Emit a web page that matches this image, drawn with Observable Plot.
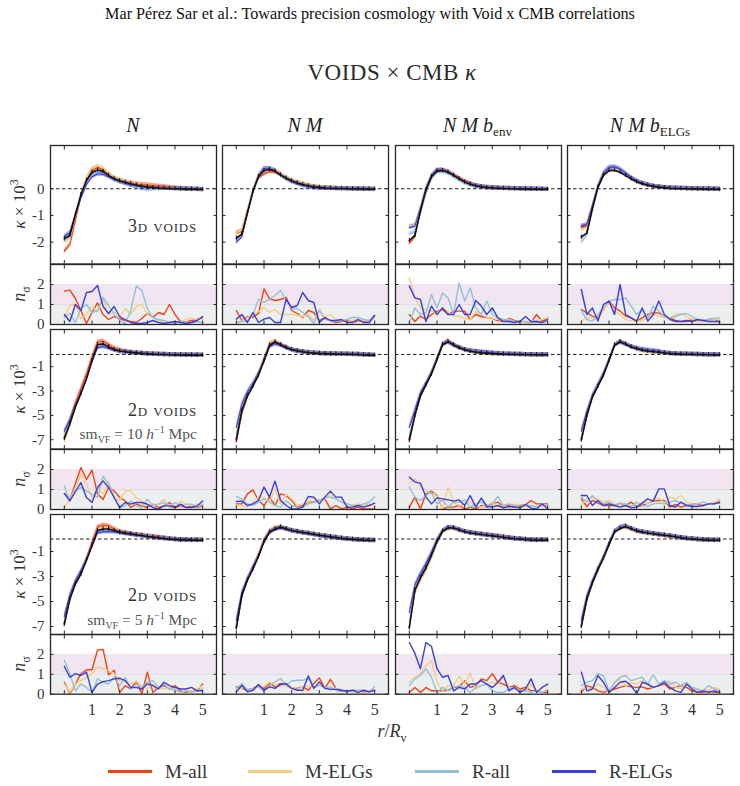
<!DOCTYPE html>
<html><head><meta charset="utf-8">
<script src="https://cdn.jsdelivr.net/npm/d3@7"></script>
<script src="https://cdn.jsdelivr.net/npm/@observablehq/plot@0.6"></script>
<style>
body{margin:0;background:#fff;}
#wrap{position:relative;width:740px;height:786px;overflow:hidden;font-family:"Liberation Serif","DejaVu Serif",serif;color:#222;background:#fff;}
.t{position:absolute;white-space:nowrap;line-height:1;}
.c{transform:translate(-50%,-50%);}
.r{transform:translate(-100%,-50%);}
.rot{transform:translate(-50%,-50%) rotate(-90deg);}
sub,sup{line-height:0;}
svg text{font-family:"Liberation Serif","DejaVu Serif",serif;}
</style></head><body><div id="wrap"></div>
<script>
// ---------- data ----------
var rBins = [0,0.2,0.4,0.6,0.8,1,1.2,1.4,1.6,1.8,2,2.2,2.4,2.6,2.8,3,3.2,3.4,3.6,3.8,4,4.2,4.4,4.6,4.8,5];
var rowKeys = ["3d","2d10","2d5"];
var colKeys = ["N","NM","NMbenv","NMbELG"];
var seriesKeys = ["Mall","MELG","Rall","RELG"];
var seriesNames = ["M-all","M-ELGs","R-all","R-ELGs"];
var bigTickValues = {"3d":[0,-1,-2],"2d10":[-1,-3,-5,-7],"2d5":[-1,-3,-5,-7]};
var smallTickValues = [0,1,2];
var xTickValues = [0,1,2,3,4,5];
var xTickLabels = [1,2,3,4,5];
var errHalf = {"3d":0.08,"2d10":0.18,"2d5":0.18};

// kappa x 1e3 : 3D voids
var kap3d_N_black = [-1.87,-1.75,-0.96,-0.22,0.31,0.62,0.70,0.65,0.50,0.38,0.30,0.24,0.19,0.14,0.10,0.07,0.05,0.03,0.02,0.01,0.00,-0.01,-0.02,-0.02,-0.02,-0.03];
var kap3d_N_Mall = [-2.35,-2.10,-1.20,-0.30,0.35,0.70,0.80,0.72,0.55,0.40,0.32,0.26,0.22,0.18,0.15,0.14,0.12,0.10,0.08,0.05,0.03,0.01,-0.01,-0.02,-0.03,-0.04];
var kap3d_N_MELG = [-2.00,-1.85,-1.00,-0.20,0.40,0.75,0.85,0.78,0.58,0.42,0.33,0.26,0.20,0.15,0.11,0.08,0.06,0.04,0.03,0.02,0.01,0.00,-0.01,-0.01,-0.02,-0.02];
var kap3d_N_Rall = [-1.95,-1.80,-1.00,-0.25,0.30,0.60,0.68,0.62,0.48,0.36,0.27,0.20,0.13,0.06,0.00,-0.04,-0.02,0.00,0.01,0.01,0.00,-0.01,-0.01,-0.02,-0.02,-0.03];
var kap3d_N_RELG = [-1.80,-1.65,-1.00,-0.35,0.15,0.45,0.55,0.55,0.45,0.35,0.27,0.20,0.14,0.10,0.07,0.05,0.04,0.03,0.02,0.01,0.00,0.00,-0.01,-0.01,-0.02,-0.02];

var kap3d_NM_black = [-1.85,-1.70,-0.90,-0.10,0.45,0.68,0.72,0.66,0.52,0.40,0.30,0.22,0.16,0.11,0.07,0.05,0.03,0.02,0.01,0.01,0.00,0.00,0.00,-0.01,-0.01,-0.01];
var kap3d_NM_Mall = [-1.65,-1.60,-0.85,-0.10,0.40,0.55,0.65,0.62,0.52,0.40,0.30,0.23,0.17,0.12,0.08,0.05,0.03,0.02,0.01,0.00,0.00,-0.01,-0.02,-0.02,-0.02,-0.03];
var kap3d_NM_MELG = [-1.65,-1.55,-0.80,-0.05,0.48,0.70,0.75,0.70,0.56,0.43,0.33,0.25,0.18,0.12,0.08,0.05,0.03,0.02,0.01,0.01,0.00,0.00,0.00,-0.01,-0.01,-0.01];
var kap3d_NM_Rall = [-1.90,-1.75,-0.95,-0.15,0.42,0.66,0.72,0.66,0.52,0.38,0.28,0.20,0.13,0.08,0.04,0.02,0.01,0.01,0.01,0.00,0.00,0.00,-0.01,-0.01,-0.01,-0.02];
var kap3d_NM_RELG = [-2.00,-1.80,-0.95,-0.12,0.48,0.75,0.76,0.68,0.52,0.38,0.27,0.19,0.13,0.08,0.04,0.02,0.01,0.01,0.00,0.00,0.00,-0.01,-0.01,-0.01,-0.02,-0.02];

var kap3d_NMbenv_black = [-1.94,-1.75,-0.85,-0.05,0.45,0.66,0.68,0.62,0.50,0.37,0.25,0.17,0.10,0.07,0.04,0.03,0.02,0.01,0.00,0.00,-0.01,-0.01,-0.02,-0.02,-0.02,-0.02];
var kap3d_NMbenv_Mall = [-2.05,-1.80,-0.85,-0.05,0.45,0.68,0.70,0.64,0.52,0.40,0.28,0.19,0.12,0.08,0.05,0.04,0.03,0.02,0.01,0.00,0.00,-0.01,-0.01,-0.02,-0.02,-0.02];
var kap3d_NMbenv_MELG = [-1.40,-1.35,-0.70,0.00,0.45,0.65,0.66,0.60,0.48,0.35,0.24,0.15,0.09,0.05,0.03,0.02,0.01,0.01,0.00,0.00,-0.01,-0.01,-0.01,-0.02,-0.02,-0.02];
var kap3d_NMbenv_Rall = [-1.70,-1.60,-0.95,-0.20,0.35,0.60,0.64,0.58,0.45,0.32,0.21,0.13,0.08,0.05,0.03,0.02,0.01,0.00,0.00,0.00,-0.01,-0.01,-0.02,-0.02,-0.02,-0.02];
var kap3d_NMbenv_RELG = [-1.45,-1.40,-0.75,0.00,0.48,0.70,0.70,0.62,0.50,0.37,0.26,0.18,0.12,0.08,0.05,0.03,0.02,0.01,0.01,0.00,0.00,-0.01,-0.01,-0.01,-0.02,-0.02];

var kap3d_NMbELG_black = [-1.81,-1.65,-0.75,0.05,0.50,0.68,0.69,0.62,0.50,0.37,0.26,0.19,0.13,0.09,0.06,0.04,0.02,0.01,0.00,0.00,-0.01,-0.01,-0.02,-0.02,-0.02,-0.03];
var kap3d_NMbELG_Mall = [-1.45,-1.40,-0.70,0.05,0.52,0.72,0.72,0.64,0.51,0.38,0.27,0.19,0.13,0.09,0.06,0.04,0.02,0.01,0.01,0.00,0.00,-0.01,-0.01,-0.01,-0.02,-0.02];
var kap3d_NMbELG_MELG = [-1.55,-1.45,-0.72,0.03,0.50,0.70,0.72,0.65,0.52,0.38,0.27,0.19,0.13,0.09,0.06,0.04,0.02,0.01,0.00,0.00,-0.01,-0.01,-0.01,-0.02,-0.02,-0.02];
var kap3d_NMbELG_Rall = [-2.00,-1.75,-0.80,0.02,0.50,0.72,0.75,0.68,0.54,0.40,0.28,0.20,0.14,0.09,0.06,0.04,0.03,0.02,0.01,0.00,0.00,0.00,-0.01,-0.01,-0.01,-0.02];
var kap3d_NMbELG_RELG = [-1.40,-1.35,-0.65,0.08,0.58,0.80,0.82,0.74,0.58,0.43,0.30,0.21,0.15,0.10,0.07,0.05,0.03,0.02,0.02,0.01,0.00,0.00,0.00,-0.01,-0.01,-0.01];

// kappa x 1e3 : 2D voids, sm 10
var kap2d10_N_black = [-6.9,-5.7,-4.3,-3.2,-2.0,-0.5,0.80,0.87,0.62,0.40,0.28,0.22,0.17,0.13,0.09,0.06,0.03,0.01,0.00,-0.02,-0.03,-0.04,-0.05,-0.05,-0.06,-0.06];
var kap2d10_N_Mall = [-6.8,-5.4,-4.0,-2.8,-1.6,-0.2,1.00,1.08,0.80,0.52,0.35,0.25,0.18,0.13,0.09,0.06,0.04,0.02,0.00,-0.01,-0.02,-0.03,-0.04,-0.05,-0.05,-0.05];
var kap2d10_N_MELG = [-7.2,-5.8,-4.4,-3.2,-2.0,-0.5,0.75,0.85,0.62,0.40,0.27,0.20,0.15,0.11,0.08,0.05,0.03,0.01,0.00,-0.01,-0.02,-0.03,-0.04,-0.04,-0.05,-0.05];
var kap2d10_N_Rall = [-6.6,-5.5,-4.2,-3.1,-1.9,-0.5,0.70,0.78,0.58,0.38,0.26,0.19,0.14,0.10,0.07,0.04,0.02,0.00,-0.01,-0.02,-0.03,-0.04,-0.05,-0.05,-0.05,-0.06];
var kap2d10_N_RELG = [-6.3,-5.4,-4.2,-3.1,-2.0,-0.6,0.55,0.65,0.52,0.36,0.26,0.20,0.15,0.11,0.08,0.05,0.03,0.01,0.00,-0.01,-0.02,-0.03,-0.04,-0.04,-0.05,-0.05];

var kap2d10_NM_black = [-7.0,-4.6,-3.4,-2.6,-1.7,-0.5,0.75,1.02,0.80,0.58,0.41,0.30,0.22,0.16,0.12,0.09,0.07,0.05,0.04,0.03,0.02,0.01,0.00,-0.03,-0.05,-0.07];
var kap2d10_NM_Mall = [-7.2,-4.9,-3.5,-2.6,-1.6,-0.4,0.85,1.05,0.82,0.58,0.40,0.29,0.21,0.15,0.11,0.08,0.06,0.05,0.04,0.03,0.02,0.01,0.00,-0.02,-0.04,-0.06];
var kap2d10_NM_MELG = [-6.9,-4.6,-3.4,-2.6,-1.7,-0.5,0.72,1.00,0.80,0.57,0.40,0.29,0.22,0.16,0.12,0.09,0.07,0.05,0.04,0.03,0.02,0.01,0.00,-0.02,-0.04,-0.06];
var kap2d10_NM_Rall = [-6.6,-4.4,-3.3,-2.5,-1.6,-0.5,0.70,0.95,0.78,0.56,0.38,0.27,0.20,0.14,0.10,0.07,0.05,0.04,0.03,0.02,0.01,0.00,-0.01,-0.03,-0.05,-0.07];
var kap2d10_NM_RELG = [-6.0,-4.1,-3.1,-2.4,-1.6,-0.6,0.62,0.88,0.75,0.55,0.38,0.27,0.20,0.15,0.11,0.08,0.06,0.05,0.04,0.03,0.02,0.01,0.00,-0.02,-0.04,-0.06];

var kap2d10_NMbenv_black = [-7.0,-5.0,-3.4,-2.5,-1.6,-0.4,0.80,1.05,0.78,0.55,0.38,0.26,0.18,0.13,0.10,0.07,0.05,0.03,0.02,0.01,0.00,-0.01,-0.02,-0.03,-0.03,-0.03];
var kap2d10_NMbenv_Mall = [-7.2,-5.1,-3.5,-2.5,-1.6,-0.4,0.82,1.08,0.80,0.57,0.40,0.28,0.20,0.14,0.10,0.07,0.05,0.03,0.02,0.01,0.00,-0.01,-0.02,-0.03,-0.03,-0.03];
var kap2d10_NMbenv_MELG = [-7.0,-5.0,-3.4,-2.5,-1.6,-0.4,0.78,1.02,0.76,0.54,0.37,0.25,0.18,0.13,0.09,0.06,0.04,0.03,0.02,0.01,0.00,-0.01,-0.02,-0.03,-0.04,-0.04];
var kap2d10_NMbenv_Rall = [-6.7,-4.8,-3.3,-2.5,-1.6,-0.45,0.75,1.00,0.76,0.54,0.37,0.26,0.19,0.14,0.10,0.07,0.05,0.03,0.02,0.01,0.00,-0.01,-0.02,-0.03,-0.03,-0.03];
var kap2d10_NMbenv_RELG = [-6.0,-4.6,-3.2,-2.4,-1.5,-0.4,0.80,1.02,0.78,0.56,0.40,0.30,0.24,0.20,0.17,0.12,0.08,0.05,0.03,0.01,0.00,-0.01,-0.02,-0.02,-0.02,-0.02];

var kap2d10_NMbELG_black = [-7.0,-5.0,-3.5,-2.6,-1.7,-0.5,0.75,1.05,0.85,0.62,0.47,0.35,0.27,0.22,0.18,0.12,0.08,0.05,0.03,0.02,0.01,0.00,-0.01,-0.02,-0.03,-0.03];
var kap2d10_NMbELG_Mall = [-7.1,-5.1,-3.5,-2.6,-1.7,-0.5,0.77,1.07,0.86,0.62,0.46,0.34,0.26,0.21,0.16,0.11,0.07,0.05,0.03,0.02,0.01,0.00,-0.01,-0.02,-0.03,-0.03];
var kap2d10_NMbELG_MELG = [-7.0,-5.0,-3.5,-2.6,-1.7,-0.5,0.74,1.03,0.84,0.60,0.45,0.33,0.25,0.20,0.16,0.11,0.07,0.05,0.03,0.02,0.01,0.00,-0.01,-0.02,-0.03,-0.03];
var kap2d10_NMbELG_Rall = [-6.8,-4.9,-3.4,-2.5,-1.6,-0.5,0.76,1.05,0.86,0.63,0.48,0.36,0.28,0.22,0.17,0.12,0.08,0.05,0.03,0.02,0.01,0.00,-0.01,-0.02,-0.02,-0.02];
var kap2d10_NMbELG_RELG = [-6.3,-4.7,-3.4,-2.5,-1.6,-0.5,0.72,1.00,0.84,0.64,0.52,0.42,0.36,0.32,0.24,0.15,0.09,0.05,0.03,0.02,0.01,0.00,-0.01,-0.02,-0.02,-0.02];

// kappa x 1e3 : 2D voids, sm 5
var kap2d5_N_black = [-6.8,-4.8,-3.6,-2.8,-1.7,-0.5,0.68,0.80,0.80,0.68,0.55,0.47,0.41,0.33,0.28,0.20,0.15,0.10,0.04,-0.01,-0.04,-0.07,-0.08,-0.09,-0.10,-0.10];
var kap2d5_N_Mall = [-6.9,-4.7,-3.5,-2.7,-1.6,-0.3,0.95,1.10,1.05,0.80,0.60,0.50,0.43,0.36,0.30,0.24,0.20,0.15,0.08,0.02,-0.03,-0.06,-0.08,-0.09,-0.10,-0.10];
var kap2d5_N_MELG = [-7.0,-4.9,-3.6,-2.8,-1.7,-0.5,0.70,0.85,0.82,0.70,0.56,0.47,0.40,0.33,0.27,0.20,0.14,0.09,0.04,0.00,-0.04,-0.06,-0.08,-0.09,-0.10,-0.10];
var kap2d5_N_Rall = [-6.6,-4.7,-3.5,-2.7,-1.7,-0.5,0.62,0.74,0.74,0.64,0.52,0.45,0.39,0.32,0.26,0.19,0.14,0.09,0.04,0.00,-0.04,-0.07,-0.08,-0.09,-0.10,-0.11];
var kap2d5_N_RELG = [-6.2,-4.5,-3.4,-2.6,-1.7,-0.6,0.50,0.58,0.60,0.58,0.50,0.44,0.38,0.31,0.26,0.19,0.14,0.09,0.04,0.00,-0.04,-0.07,-0.08,-0.10,-0.10,-0.10];

var kap2d5_NM_black = [-7.1,-4.5,-3.3,-2.4,-1.4,-0.2,0.55,0.80,0.95,0.82,0.68,0.60,0.52,0.45,0.38,0.30,0.24,0.18,0.12,0.06,0.01,-0.03,-0.06,-0.09,-0.11,-0.12];
var kap2d5_NM_Mall = [-7.2,-4.6,-3.3,-2.3,-1.3,-0.1,0.60,0.85,0.95,0.80,0.66,0.58,0.50,0.44,0.37,0.29,0.23,0.17,0.11,0.05,0.00,-0.04,-0.07,-0.10,-0.12,-0.12];
var kap2d5_NM_MELG = [-7.1,-4.5,-3.3,-2.4,-1.4,-0.2,0.55,0.82,0.96,0.83,0.69,0.60,0.52,0.45,0.38,0.30,0.24,0.18,0.12,0.06,0.01,-0.03,-0.06,-0.09,-0.11,-0.12];
var kap2d5_NM_Rall = [-6.8,-4.4,-3.2,-2.4,-1.4,-0.2,0.52,0.78,0.90,0.80,0.67,0.59,0.51,0.44,0.37,0.30,0.24,0.18,0.12,0.06,0.01,-0.03,-0.06,-0.09,-0.10,-0.11];
var kap2d5_NM_RELG = [-6.5,-4.3,-3.2,-2.3,-1.4,-0.25,0.50,0.76,0.88,0.80,0.67,0.59,0.51,0.44,0.37,0.29,0.23,0.17,0.11,0.05,0.00,-0.04,-0.07,-0.09,-0.10,-0.11];

var kap2d5_NMbenv_black = [-7.1,-4.1,-3.1,-2.3,-1.3,-0.2,0.60,0.88,0.88,0.72,0.58,0.48,0.42,0.36,0.30,0.25,0.20,0.14,0.08,0.03,0.00,-0.04,-0.08,-0.10,-0.10,-0.10];
var kap2d5_NMbenv_Mall = [-7.0,-4.3,-3.3,-2.5,-1.5,-0.3,0.58,0.86,0.86,0.70,0.58,0.50,0.44,0.38,0.32,0.28,0.22,0.16,0.10,0.04,0.00,-0.04,-0.08,-0.10,-0.10,-0.10];
var kap2d5_NMbenv_MELG = [-7.0,-4.3,-3.3,-2.5,-1.5,-0.3,0.56,0.82,0.84,0.68,0.55,0.47,0.40,0.35,0.29,0.24,0.19,0.13,0.07,0.02,-0.01,-0.05,-0.08,-0.10,-0.10,-0.10];
var kap2d5_NMbenv_Rall = [-6.6,-4.0,-3.0,-2.2,-1.2,-0.15,0.62,0.88,0.88,0.72,0.58,0.48,0.42,0.36,0.30,0.25,0.20,0.14,0.08,0.03,0.00,-0.04,-0.08,-0.10,-0.10,-0.10];
var kap2d5_NMbenv_RELG = [-5.9,-3.7,-2.8,-2.0,-1.1,-0.1,0.65,0.92,0.90,0.74,0.60,0.50,0.44,0.38,0.32,0.26,0.20,0.14,0.08,0.03,-0.01,-0.05,-0.08,-0.09,-0.08,-0.08];

var kap2d5_NMbELG_black = [-7.0,-4.8,-3.5,-2.45,-1.5,-0.45,0.55,0.85,1.00,0.82,0.65,0.55,0.48,0.42,0.35,0.30,0.24,0.18,0.10,0.04,0.00,-0.04,-0.07,-0.09,-0.10,-0.10];
var kap2d5_NMbELG_Mall = [-7.0,-4.9,-3.6,-2.5,-1.6,-0.5,0.55,0.84,0.98,0.80,0.63,0.54,0.47,0.41,0.34,0.29,0.23,0.17,0.10,0.04,0.00,-0.04,-0.07,-0.09,-0.10,-0.10];
var kap2d5_NMbELG_MELG = [-7.0,-4.8,-3.5,-2.5,-1.6,-0.5,0.54,0.84,0.98,0.80,0.63,0.54,0.47,0.41,0.34,0.29,0.23,0.17,0.09,0.03,-0.01,-0.05,-0.08,-0.10,-0.11,-0.11];
var kap2d5_NMbELG_Rall = [-6.8,-4.7,-3.4,-2.4,-1.5,-0.4,0.60,0.92,1.05,0.85,0.68,0.57,0.50,0.43,0.36,0.31,0.25,0.19,0.11,0.05,0.01,-0.03,-0.06,-0.08,-0.09,-0.09];
var kap2d5_NMbELG_RELG = [-6.5,-4.6,-3.4,-2.4,-1.5,-0.4,0.58,0.88,1.02,0.84,0.67,0.56,0.49,0.43,0.36,0.31,0.25,0.19,0.11,0.05,0.01,-0.03,-0.06,-0.08,-0.09,-0.09];

// n_sigma
var ns3d_N_Mall = [1.67,1.72,1.30,0.70,0.05,0.60,1.08,0.50,0.25,0.40,0.30,0.20,0.15,0.10,0.30,0.55,0.35,0.60,0.50,1.00,0.50,0.15,0.10,0.20,0.25,0.33];
var ns3d_N_MELG = [0.35,0.95,1.00,0.30,0.50,0.90,0.65,1.30,0.50,0.65,0.35,0.80,0.50,0.90,1.00,0.50,0.35,0.20,0.10,0.10,0.10,0.15,0.25,0.30,0.25,0.25];
var ns3d_N_Rall = [0.35,0.55,0.10,0.80,1.00,0.60,0.70,1.35,0.95,0.50,0.20,0.05,0.70,1.92,1.70,0.80,0.35,0.25,0.20,0.10,0.05,0.15,0.10,0.10,0.15,0.10];
var ns3d_N_RELG = [0.50,0.15,1.00,0.70,1.60,1.65,1.95,0.90,0.55,0.90,0.40,0.25,0.10,0.05,0.05,0.10,0.20,0.10,0.05,0.10,0.15,0.10,0.05,0.10,0.20,0.40];

var ns3d_NM_Mall = [0.70,0.20,0.40,0.35,0.55,1.78,1.28,1.20,1.25,1.36,0.70,0.55,0.35,0.70,0.60,0.20,0.35,0.20,0.10,0.15,0.20,0.10,0.20,0.15,0.10,0.45];
var ns3d_NM_MELG = [0.10,0.20,0.35,0.50,0.65,0.85,0.60,0.75,0.50,0.50,0.50,0.45,0.40,0.50,0.20,0.78,0.35,0.50,0.25,0.20,0.15,0.20,0.25,0.20,0.15,0.35];
var ns3d_NM_Rall = [0.10,0.15,0.20,0.45,1.27,1.10,1.27,1.45,1.70,1.20,0.80,0.80,0.60,0.40,0.05,0.70,0.25,0.20,0.15,0.20,0.25,0.35,0.35,0.25,0.20,0.45];
var ns3d_NM_RELG = [0.27,0.50,0.10,0.60,0.10,0.27,0.35,0.10,0.10,1.27,0.85,0.95,1.60,1.20,1.10,0.10,0.35,0.20,0.20,0.25,0.10,0.10,0.25,0.10,0.10,0.45];

var ns3d_NMbenv_Mall = [0.50,0.15,0.42,0.25,0.50,0.67,0.75,0.50,0.67,0.67,0.67,0.25,0.50,0.40,0.35,0.30,0.20,0.15,0.30,0.20,0.15,0.10,0.10,0.50,0.15,0.33];
var ns3d_NMbenv_MELG = [2.33,1.33,0.83,0.75,0.65,0.58,0.83,0.65,0.45,0.40,0.30,0.25,0.65,0.50,0.35,0.30,0.25,0.20,0.25,0.15,0.15,0.10,0.20,0.20,0.25,0.33];
var ns3d_NMbenv_Rall = [0.08,0.83,0.50,0.58,1.50,0.83,1.58,1.33,0.50,2.08,1.17,1.83,0.83,0.50,1.17,0.50,0.33,0.25,0.20,0.15,0.15,0.15,0.10,0.10,0.10,0.15];
var ns3d_NMbenv_RELG = [1.92,1.33,1.25,0.15,0.92,0.50,0.83,0.50,0.50,1.00,0.50,0.50,1.20,0.92,0.50,0.83,0.33,0.15,0.15,0.10,0.15,0.40,0.15,0.15,0.10,0.25];

var ns3d_NMbELG_Mall = [0.75,0.58,0.42,0.33,0.75,1.17,0.83,0.67,0.42,0.33,0.17,0.33,0.50,0.58,0.58,0.42,0.33,0.20,0.15,0.15,0.25,0.15,0.20,0.25,0.30,0.10];
var ns3d_NMbELG_MELG = [0.17,0.33,0.33,0.25,0.75,1.08,0.67,0.50,0.25,0.20,0.17,0.20,0.33,0.50,0.42,0.33,0.33,0.50,0.55,0.40,0.25,0.15,0.15,0.20,0.25,0.25];
var ns3d_NMbELG_Rall = [0.67,0.25,0.17,0.50,0.83,1.17,1.25,1.25,1.33,0.92,0.50,0.75,0.33,0.92,0.67,0.40,0.33,0.40,0.50,0.55,0.40,0.25,0.20,0.25,0.30,0.33];
var ns3d_NMbELG_RELG = [1.75,0.50,0.83,0.17,1.00,1.17,0.50,2.00,0.50,0.33,0.17,0.83,0.17,0.50,1.17,0.50,0.25,0.15,0.15,0.20,0.15,0.25,0.20,0.15,0.15,0.15];

var ns2d10_N_Mall = [0.80,0.50,1.30,2.10,1.50,1.97,0.77,0.50,1.10,0.93,0.60,0.43,0.10,0.27,0.18,0.10,0.27,0.10,0.18,0.35,0.10,0.18,0.10,0.18,0.10,0.18];
var ns2d10_N_MELG = [0.10,0.50,1.10,1.77,1.27,0.60,1.10,0.77,1.43,0.60,0.43,0.93,0.93,0.60,0.43,0.18,0.27,0.27,0.52,0.10,0.10,0.43,0.27,0.18,0.27,0.18];
var ns2d10_N_Rall = [1.18,0.43,0.93,1.10,0.93,0.77,0.60,1.67,1.27,0.60,0.10,0.18,0.43,0.18,0.10,0.52,0.18,0.27,0.35,0.18,0.35,0.18,0.27,0.27,0.10,0.27];
var ns2d10_N_RELG = [0.80,0.43,0.90,1.35,0.60,0.35,1.10,1.43,1.10,0.60,0.10,0.35,0.27,0.35,0.35,0.27,0.10,0.02,0.18,0.18,0.10,0.27,0.10,0.10,0.18,0.43];

var ns2d10_NM_Mall = [0.28,0.28,0.78,0.98,0.45,0.20,0.62,0.20,0.78,0.70,0.45,0.12,0.20,0.37,0.37,0.45,0.53,0.03,0.20,0.03,0.12,0.03,0.12,0.03,0.03,0.03];
var ns2d10_NM_MELG = [0.20,0.20,0.12,0.37,0.62,0.62,0.37,1.03,0.28,0.78,0.53,0.20,0.28,0.37,0.62,0.45,0.53,0.78,0.53,0.37,0.28,0.20,0.28,0.20,0.28,0.12];
var ns2d10_NM_Rall = [0.65,0.53,0.28,0.20,0.37,0.53,0.37,0.20,0.12,0.45,0.20,0.12,0.12,0.28,0.37,0.45,0.62,0.62,0.53,0.37,0.28,0.20,0.20,0.28,0.37,0.62];
var ns2d10_NM_RELG = [0.40,0.42,0.20,0.28,0.45,1.12,0.62,1.42,0.45,0.20,0.03,0.03,0.12,0.65,0.62,0.28,0.62,0.92,0.62,0.62,0.12,0.12,0.20,0.12,0.20,0.32];

var ns2d10_NMbenv_Mall = [0.12,0.62,0.03,0.78,0.92,0.70,0.03,0.12,0.12,0.20,0.03,0.12,0.03,0.20,0.12,0.28,0.37,0.12,0.20,0.12,0.20,0.23,0.45,0.28,0.28,0.28];
var ns2d10_NMbenv_MELG = [1.28,1.53,1.20,0.95,0.78,0.78,0.03,1.12,0.37,0.20,0.28,0.37,0.20,0.12,0.20,0.37,0.12,0.20,0.12,0.28,0.20,0.12,0.20,0.15,0.20,0.12];
var ns2d10_NMbenv_Rall = [1.12,0.62,0.45,0.70,0.87,0.28,0.48,0.12,0.37,0.37,0.48,0.12,0.28,0.37,0.20,0.28,0.65,0.20,0.28,0.20,0.12,0.20,0.20,0.12,0.28,0.20];
var ns2d10_NMbenv_RELG = [1.62,1.37,1.32,0.62,0.28,0.58,0.53,0.48,0.42,0.48,0.20,0.70,0.12,0.57,0.15,0.12,0.20,0.08,0.15,0.12,0.08,0.25,0.07,0.03,0.28,0.03];

var ns2d10_NMbELG_Mall = [0.53,0.15,0.45,0.32,0.20,0.20,0.20,0.32,0.20,0.37,0.15,0.20,0.32,0.42,0.45,0.45,0.12,0.25,0.12,0.20,0.28,0.25,0.20,0.28,0.32,0.32];
var ns2d10_NMbELG_MELG = [0.20,0.53,0.62,0.53,0.37,0.45,0.28,0.12,0.28,0.20,0.15,0.37,0.28,0.53,0.58,0.32,0.62,0.53,0.70,0.37,0.28,0.20,0.20,0.28,0.37,0.53];
var ns2d10_NMbELG_Rall = [0.62,0.37,0.70,0.37,0.28,0.37,0.20,0.32,0.28,0.15,0.37,0.20,0.15,0.28,0.32,0.28,0.37,0.45,0.32,0.25,0.20,0.28,0.37,0.28,0.25,0.45];
var ns2d10_NMbELG_RELG = [0.70,0.70,0.20,0.45,0.20,0.28,0.20,0.12,0.20,0.08,0.12,0.32,0.53,0.42,1.03,1.03,0.20,0.12,0.37,0.20,0.15,0.15,0.20,0.28,0.28,0.37];

var ns2d5_N_Mall = [0.60,0.02,0.51,1.03,1.23,1.23,2.22,2.25,0.97,1.20,0.09,0.43,0.26,0.65,0.02,1.11,0.09,0.34,0.43,0.26,0.43,0.17,0.09,0.17,0.17,0.51];
var ns2d5_N_MELG = [0.51,0.09,0.51,0.68,0.85,1.03,1.37,1.28,1.20,1.03,0.68,0.60,0.51,0.65,0.43,0.26,0.51,0.34,0.26,0.34,0.17,0.09,0.17,0.17,0.26,0.43];
var ns2d5_N_Rall = [1.71,1.03,0.17,0.51,0.34,0.09,0.77,0.60,0.51,0.85,0.43,0.85,0.26,0.51,0.34,0.60,0.68,0.34,0.51,0.26,0.26,0.09,0.17,0.09,0.17,0.26];
var ns2d5_N_RELG = [1.40,0.85,1.03,0.94,1.11,0.09,0.51,0.63,0.68,0.77,0.80,0.68,0.34,0.34,0.26,0.51,0.43,0.26,0.60,0.43,0.34,0.26,0.26,0.34,0.17,0.17];

var ns2d5_NM_Mall = [0.37,0.29,0.20,0.29,0.45,0.29,0.54,0.37,0.54,0.45,0.29,0.29,0.37,0.20,0.54,0.82,0.29,0.75,0.29,0.20,0.12,0.20,0.17,0.12,0.15,0.20];
var ns2d5_NM_MELG = [0.20,0.32,0.29,0.20,0.42,0.37,0.62,0.45,0.37,0.49,0.32,0.24,0.37,0.42,0.32,0.45,0.32,0.20,0.29,0.15,0.20,0.15,0.12,0.20,0.12,0.20];
var ns2d5_NM_Rall = [0.29,0.54,0.20,0.29,0.37,0.15,0.42,0.62,0.79,0.45,0.66,0.70,0.70,0.79,0.37,0.45,0.32,0.37,0.20,0.12,0.20,0.12,0.20,0.20,0.12,0.37];
var ns2d5_NM_RELG = [0.12,0.45,0.12,0.20,0.49,0.20,0.37,0.29,0.49,0.54,0.29,0.20,0.20,0.92,0.29,0.62,0.29,0.25,0.24,0.20,0.15,0.20,0.08,0.20,0.12,0.20];

var ns2d5_NMbenv_Mall = [0.09,0.34,0.09,0.34,0.17,0.17,0.17,0.20,0.34,0.37,0.68,0.34,0.43,0.77,0.68,1.03,0.60,0.51,0.34,0.43,0.26,0.34,0.17,0.17,0.09,0.09];
var ns2d5_NMbenv_MELG = [0.60,0.85,1.03,1.45,1.68,0.60,0.17,0.43,0.43,0.89,0.51,1.06,0.26,0.43,0.51,0.60,0.51,0.85,0.34,0.26,0.17,0.20,0.51,0.17,0.09,0.26];
var ns2d5_NMbenv_Rall = [0.43,0.77,0.94,1.28,0.85,0.09,0.34,0.17,0.34,0.43,0.34,0.09,0.34,0.43,0.51,0.17,0.09,0.09,0.26,0.34,0.17,0.17,0.09,0.17,0.09,0.20];
var ns2d5_NMbenv_RELG = [2.60,2.05,1.28,2.60,2.40,1.28,0.85,0.94,0.17,0.34,0.26,0.51,0.51,0.68,0.51,0.34,0.60,0.94,0.17,0.34,0.09,0.26,0.77,0.09,0.34,0.51];

var ns2d5_NMbELG_Mall = [0.09,0.43,0.34,0.17,0.09,0.17,0.26,0.34,0.43,0.37,0.34,0.37,0.26,0.34,0.43,0.51,0.26,0.34,0.43,0.34,0.17,0.09,0.09,0.17,0.09,0.09];
var ns2d5_NMbELG_MELG = [0.26,0.34,0.26,0.51,0.34,0.09,0.51,0.77,0.43,0.60,0.51,0.68,0.43,0.34,0.47,0.60,0.65,0.34,0.26,0.51,0.34,0.20,0.17,0.20,0.34,0.26];
var ns2d5_NMbELG_Rall = [0.43,0.60,0.68,1.03,0.94,0.17,0.60,0.85,0.94,0.68,0.77,0.85,0.51,0.99,0.51,0.68,0.51,0.60,0.43,0.60,0.34,0.26,0.17,0.43,0.26,0.17];
var ns2d5_NMbELG_RELG = [1.11,0.17,0.26,0.94,0.60,0.09,0.34,0.60,0.65,0.43,0.03,0.60,0.51,0.34,0.43,0.60,0.34,0.17,0.09,0.51,0.26,0.09,0.17,0.09,0.17,0.09];

// ---------- layout / style ----------
var colors = {Mall:"#f4420f", MELG:"#f7cd82", Rall:"#94c0d7", RELG:"#3d3ddb"};
var XD = [-0.5, 5.5];
var bigYD = {"3d":[-2.82,1.62], "2d10":[-7.76,2.05], "2d5":[-7.64,1.96]};
var smallYD = [0, 3];
var colX = [50, 222, 394.5, 567], PW = 166;
var bigTop = [145, 329, 514], bigH = [118.5, 119.5, 120];
var smallTop = [263.5, 448.5, 634], smallH = [60, 60, 59.7];
var FONT = "Liberation Serif";

var wrap = document.getElementById("wrap");
function txt(html, x, y, cls, css) {
  var d = document.createElement("div");
  d.className = "t " + (cls || "c");
  d.style.left = x + "px"; d.style.top = y + "px";
  if (css) d.style.cssText += css;
  d.innerHTML = html;
  wrap.appendChild(d);
  return d;
}
function table(vals) { return rBins.map(function(r, i){ return {r: r, v: vals[i]}; }); }

function makePanel(opts) {
  var ml = opts.yLabels ? 40 : 1, mb = opts.xLabels ? 28 : 1;
  var blank = function(){ return ""; };
  var axes = [
    Plot.axisX(xTickValues, {anchor:"bottom", tickSize:-3.5, tickFormat:blank, label:null}),
    Plot.axisX(xTickValues, {anchor:"top", tickSize:-3.5, tickFormat:blank, label:null}),
    Plot.axisY(opts.yTicks, {anchor:"left", tickSize:-3.5, tickFormat:blank, label:null}),
    Plot.axisY(opts.yTicks, {anchor:"right", tickSize:-3.5, tickFormat:blank, label:null})
  ];
  if (opts.yLabels) axes.push(Plot.axisY(opts.yTicks, {anchor:"left", tickSize:0, tickPadding:6, label:null, fontSize:15, fontFamily:FONT, fill:"#333", tickFormat:function(d){return String(d);}}));
  if (opts.xLabels) axes.push(Plot.axisX(xTickLabels, {anchor:"bottom", tickSize:0, tickPadding:9, label:null, fontSize:16, fontFamily:FONT, fill:"#333", tickFormat:function(d){return String(d);}}));
  var svg = Plot.plot({
    width: PW + ml + 1, height: opts.h + 1 + mb,
    marginLeft: ml, marginRight: 1, marginTop: 1, marginBottom: mb,
    x: {domain: XD}, y: {domain: opts.yDomain},
    style: {fontFamily: FONT, overflow: "visible", background: "transparent", color: "#2a2a2a"},
    marks: opts.marks.concat(axes, [Plot.frame({stroke:"#262626", strokeWidth:1.3})])
  });
  svg.style.position = "absolute";
  svg.style.left = (opts.x - ml) + "px";
  svg.style.top = (opts.y - 1) + "px";
  wrap.appendChild(svg);
}

rowKeys.forEach(function(rk, ri) {
  colKeys.forEach(function(ck, ci) {
    var e = errHalf[rk];
    // big kappa panel
    var marks = [];
    seriesKeys.forEach(function(s){
      var d = table(window["kap" + rk + "_" + ck + "_" + s]);
      marks.push(Plot.areaY(d, {x:"r", y1:function(p){return p.v - e;}, y2:function(p){return p.v + e;}, fill:colors[s], fillOpacity:0.5, clip:true}));
    });
    seriesKeys.forEach(function(s){
      var d = table(window["kap" + rk + "_" + ck + "_" + s]);
      marks.push(Plot.line(d, {x:"r", y:"v", stroke:colors[s], strokeWidth:1.1, clip:true}));
    });
    marks.push(Plot.ruleY([0], {stroke:"#1e1e1e", strokeWidth:1, strokeDasharray:"3.5,2.5"}));
    var bd = table(window["kap" + rk + "_" + ck + "_black"]);
    marks.push(Plot.ruleX(bd, {x:"r", y1:function(p){return p.v - e;}, y2:function(p){return p.v + e;}, stroke:"#111", strokeWidth:1, clip:true}));
    marks.push(Plot.line(bd, {x:"r", y:"v", stroke:"#111", strokeWidth:1.6, clip:true}));
    makePanel({x: colX[ci], y: bigTop[ri], h: bigH[ri], yDomain: bigYD[rk], yTicks: bigTickValues[rk], yLabels: ci === 0, xLabels: false, marks: marks});

    // small n_sigma panel
    var sm = [
      Plot.rect([{lo:0, hi:1}], {x1: XD[0], x2: XD[1], y1:"lo", y2:"hi", fill:"#eceef0"}),
      Plot.rect([{lo:1, hi:2}], {x1: XD[0], x2: XD[1], y1:"lo", y2:"hi", fill:"#f1e5f1"}),
      Plot.ruleY([1], {stroke:"#ddd3de", strokeWidth:0.7})
    ];
    seriesKeys.forEach(function(s){
      var d = table(window["ns" + rk + "_" + ck + "_" + s]);
      sm.push(Plot.line(d, {x:"r", y:"v", stroke:colors[s], strokeWidth:1.4, clip:true}));
    });
    makePanel({x: colX[ci], y: smallTop[ri], h: smallH[ri], yDomain: smallYD, yTicks: smallTickValues, yLabels: ci === 0, xLabels: ri === 2, marks: sm});
  });
});

// ---------- texts ----------
txt("Mar Pérez Sar et al.: Towards precision cosmology with Void x CMB correlations", 370, 14, "c", "font-size:16.2px;color:#111;");
txt("VOIDS × CMB <i>κ</i>", 392, 72, "c", "font-size:23px;color:#2a2a2a;letter-spacing:0.5px;");
var colTitles = ["<i>N</i>", "<i>N M</i>", "<i>N M b</i><sub style='font-size:13px;vertical-align:-4px'>env</sub>", "<i>N M b</i><sub style='font-size:13px;vertical-align:-4px'>ELGs</sub>"];
colTitles.forEach(function(h, i){ txt(h, colX[i] + PW/2, 125, "c", "font-size:20px;color:#222;"); });
bigTop.forEach(function(t, i){ txt("<i>κ</i> × 10<sup style='font-size:12px'>3</sup>", 19, t + bigH[i]/2, "rot", "font-size:17px;color:#333;"); });
smallTop.forEach(function(t, i){ txt("<i>n</i><sub style='font-size:12px'>σ</sub>", 19, t + smallH[i]/2, "rot", "font-size:18px;color:#333;"); });
txt("3d voids", 197, 226, "r", "font-size:18px;font-variant:small-caps;letter-spacing:0.8px;color:#333;");
txt("2d voids", 197, 410, "r", "font-size:18px;font-variant:small-caps;letter-spacing:0.8px;color:#333;");
txt("sm<sub style='font-size:10px;font-variant:small-caps'>VF</sub> = 10 <i>h</i><sup style='font-size:10px'>−1</sup> Mpc", 197, 434, "r", "font-size:15.5px;color:#555;");
txt("2d voids", 197, 595, "r", "font-size:18px;font-variant:small-caps;letter-spacing:0.8px;color:#333;");
txt("sm<sub style='font-size:10px;font-variant:small-caps'>VF</sub> = 5 <i>h</i><sup style='font-size:10px'>−1</sup> Mpc", 197, 620, "r", "font-size:15.5px;color:#555;");
txt("<i>r</i>/<i>R</i><sub style='font-size:12px'>v</sub>", 392, 731, "c", "font-size:18px;color:#333;");

// legend
var legLineX = [108, 248, 415, 552];
seriesKeys.forEach(function(s, i){
  var l = document.createElement("div");
  l.style.cssText = "position:absolute;left:" + legLineX[i] + "px;top:770px;width:44px;height:3px;background:" + colors[s] + ";";
  wrap.appendChild(l);
  txt(seriesNames[i], legLineX[i] + 57, 771, "t", "font-size:19px;color:#333;transform:translate(0,-50%);");
});
</script></body></html>
